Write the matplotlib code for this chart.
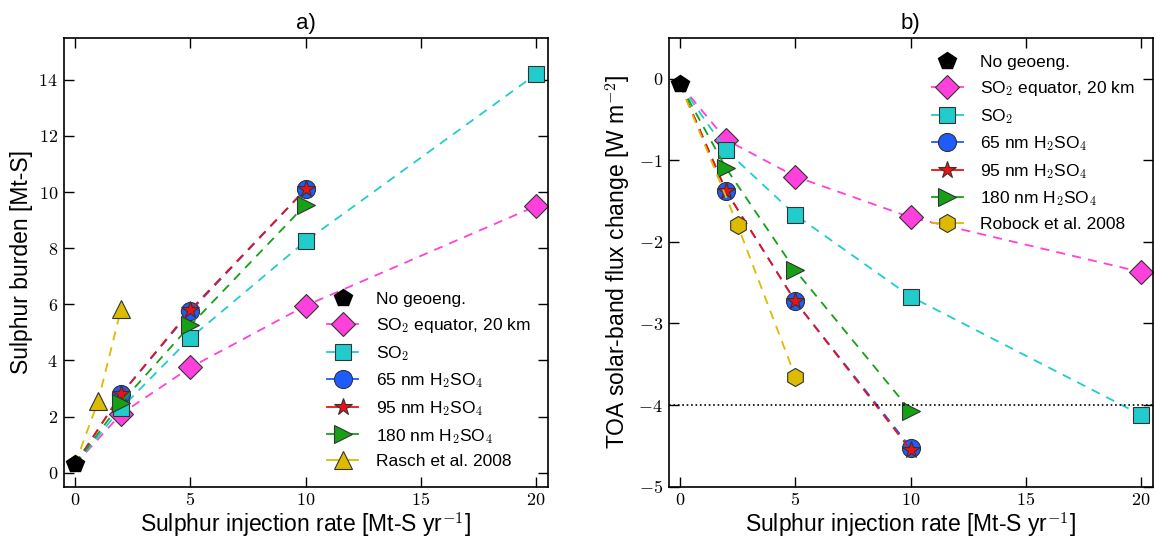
import numpy as np
import matplotlib.pyplot as plt
from matplotlib.ticker import FuncFormatter

plt.rcParams['mathtext.fontset'] = 'cm'
plt.rcParams['font.family'] = ['Liberation Sans', 'DejaVu Sans']

# panel a) sulphur burden [Mt-S]
no_geo_a = 0.3
rate_main = [2, 5, 10, 20]
rate_h2so4 = [2, 5, 10]
so2_eq_a = [2.1, 3.75, 5.95, 9.5]
so2_a = [2.3, 4.8, 8.25, 14.2]
nm65_a = [2.8, 5.75, 10.1]
nm95_a = [2.8, 5.8, 10.1]
nm180_a = [2.5, 5.25, 9.55]
rasch_rate = [1, 2]
rasch_a = [2.55, 5.85]

# panel b) TOA solar-band flux change [W m-2]
no_geo_b = -0.07
so2_eq_b = [-0.75, -1.2, -1.7, -2.37]
so2_b = [-0.88, -1.67, -2.67, -4.12]
nm65_b = [-1.38, -2.73, -4.52]
nm95_b = [-1.38, -2.73, -4.55]
nm180_b = [-1.1, -2.35, -4.07]
robock_rate = [2.5, 5]
robock_b = [-1.8, -3.65]
target_b = -4.0

c_mag = '#ff40dd'
c_cyan = '#22cccc'
c_blue = '#1f5cff'
c_red = '#ee1111'
c_green = '#15a015'
c_yel = '#ddbb00'

fig, (ax1, ax2) = plt.subplots(1, 2, figsize=(11.56, 5.39), dpi=100)
fig.subplots_adjust(left=0.055, right=0.997, bottom=0.097, top=0.93, wspace=0.25)


def series(ax, x, y, x0, y0, color, marker, ms, label):
    # dashed line starts from the no-geoengineering point
    ax.plot([x0] + list(x), [y0] + list(y), '--', color=color, lw=1.3, dashes=(5, 4))
    ax.plot(x, y, linestyle='None', marker=marker, ms=ms,
            mfc=color, mec='#333333', mew=0.8)
    line = plt.Line2D([], [], color=color, lw=1.3, marker=marker, ms=ms,
                      mfc=color, mec='#333333', mew=0.8, label=label)
    return line


def panel(ax, no_geo, vals, extra_rate, extra_vals, extra_label, extra_marker):
    so2_eq, so2, nm65, nm95, nm180 = vals
    hs = []
    hs.append(series(ax, rate_main, so2_eq, 0, no_geo, c_mag, 'D', 12, r'SO$_2$ equator, 20 km'))
    hs.append(series(ax, rate_main, so2, 0, no_geo, c_cyan, 's', 12, r'SO$_2$'))
    hs.append(series(ax, rate_h2so4, nm65, 0, no_geo, c_blue, 'o', 13, r'65 nm H$_2$SO$_4$'))
    hs.append(series(ax, rate_h2so4, nm95, 0, no_geo, c_red, '*', 13, r'95 nm H$_2$SO$_4$'))
    hs.append(series(ax, rate_h2so4, nm180, 0, no_geo, c_green, '>', 13, r'180 nm H$_2$SO$_4$'))
    hs.append(series(ax, extra_rate, extra_vals, 0, no_geo, c_yel, extra_marker, 13, extra_label))
    h0, = ax.plot([0], [no_geo], linestyle='None', marker='p', ms=13, color='black',
                  label='No geoeng.')
    return [h0] + hs


def fmt(v, pos):
    if abs(v) < 1e-9:
        v = 0
    return r'$%g$' % v if v >= 0 else r'$-%g$' % abs(v)


hs_a = panel(ax1, no_geo_a, [so2_eq_a, so2_a, nm65_a, nm95_a, nm180_a],
             rasch_rate, rasch_a, 'Rasch et al. 2008', '^')
hs_b = panel(ax2, no_geo_b, [so2_eq_b, so2_b, nm65_b, nm95_b, nm180_b],
             robock_rate, robock_b, 'Robock et al. 2008', 'h')
ax2.axhline(target_b, color='black', ls=':', lw=1.2)

ax1.set_xlim(-0.5, 20.5)
ax1.set_ylim(-0.5, 15.5)
ax1.set_yticks(np.arange(0, 15, 2))
ax2.set_xlim(-0.5, 20.5)
ax2.set_ylim(-5, 0.5)
ax2.set_yticks(np.arange(-5, 1, 1))

for ax in (ax1, ax2):
    ax.set_xticks([0, 5, 10, 15, 20])
    ax.xaxis.set_major_formatter(FuncFormatter(fmt))
    ax.yaxis.set_major_formatter(FuncFormatter(fmt))
    ax.tick_params(direction='in', top=True, right=True, length=7, width=1,
                   labelsize=13, pad=4)
    for s in ax.spines.values():
        s.set_linewidth(1.2)
    ax.set_xlabel(r'Sulphur injection rate [Mt-S yr$^{-1}$]', fontsize=16.5, labelpad=1)

ax1.set_ylabel('Sulphur burden [Mt-S]', fontsize=16.5, labelpad=4)
ax2.set_ylabel(r'TOA solar-band flux change [W m$^{-2}$]', fontsize=16.5, labelpad=4)
ax1.set_title('a)', fontsize=16)
ax2.set_title('b)', fontsize=16)

ax1.legend(handles=hs_a, loc='lower right', frameon=False, fontsize=12.5,
           handlelength=1.8, handletextpad=1.0, labelspacing=0.5, numpoints=1,
           borderaxespad=0.6)
ax2.legend(handles=hs_b, loc='upper right', frameon=False, fontsize=12.5,
           handlelength=1.8, handletextpad=1.0, labelspacing=0.5, numpoints=1,
           borderaxespad=0.6)

plt.savefig('out.png', dpi=100)
